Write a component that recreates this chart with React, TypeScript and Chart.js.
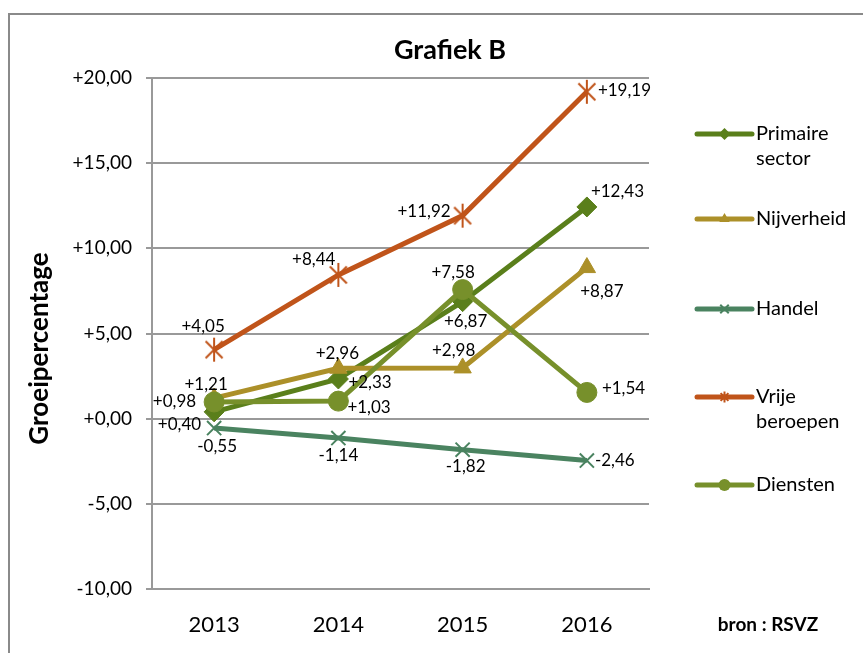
import { useEffect, useRef } from 'react';
import { Chart, registerables } from 'chart.js';

Chart.register(...registerables);

// ---- data ----
const categories = ['2013', '2014', '2015', '2016'];
const primaireSector = [0.40, 2.33, 6.87, 12.43];
const nijverheid = [1.21, 2.96, 2.98, 8.87];
const handel = [-0.55, -1.14, -1.82, -2.46];
const vrijeBeroepen = [4.05, 8.44, 11.92, 19.19];
const diensten = [0.98, 1.03, 7.58, 1.54];
const seriesNames = ['Primaire sector', 'Nijverheid', 'Handel', 'Vrije beroepen', 'Diensten'];
const legendLines = [['Primaire', 'sector'], ['Nijverheid'], ['Handel'], ['Vrije', 'beroepen'], ['Diensten']];
const yMin = -10;
const yMax = 20;
const yStep = 5;
const titleText = 'Grafiek B';
const yTitleText = 'Groeipercentage';
const sourceText = 'bron : RSVZ';

// ---- styles ----
const FONT = 'Lato, "Noto Sans", sans-serif';
const colors = ['#5A7F1B', '#AC9029', '#4A8360', '#C0541A', '#77902B'];
const markers = ['rectRot', 'triangle', 'crossRot', 'star6', 'circle'];
// label placement per point: [dx, dy, align]
const labelPlacement: [number, number, CanvasTextAlign][][] = [
  [[-13, 13, 'right'], [10, 4, 'left'], [3, 20, 'center'], [4, -15, 'left']],
  [[-8, -14, 'center'], [-1, -15, 'center'], [-9, -17, 'center'], [15, 24, 'center']],
  [[3, 18, 'center'], [0, 17, 'center'], [3, 17, 'center'], [8, 0, 'left']],
  [[-11, -23, 'center'], [-3, -15, 'right'], [-12, -4, 'right'], [11, -1, 'left']],
  [[-18, 0, 'right'], [9, 6, 'left'], [-9.5, -17, 'center'], [15, -4, 'left']],
];

const fmt = (v: number) => (v >= 0 ? '+' : '') + v.toFixed(2).replace('.', ',');

function makeStar(color: string, r: number, lw: number) {
  const c = document.createElement('canvas');
  const s = Math.ceil(r * 2 + lw * 2);
  c.width = s;
  c.height = s;
  const ctx = c.getContext('2d')!;
  const m = s / 2;
  ctx.strokeStyle = color;
  ctx.lineWidth = lw;
  ctx.beginPath();
  const d = r * Math.SQRT1_2;
  ctx.moveTo(m - d, m - d); ctx.lineTo(m + d, m + d);
  ctx.moveTo(m + d, m - d); ctx.lineTo(m - d, m + d);
  ctx.moveTo(m, m - r); ctx.lineTo(m, m + r);
  ctx.stroke();
  return c;
}

function drawMarker(ctx: CanvasRenderingContext2D, style: string, x: number, y: number, r: number, color: string) {
  ctx.save();
  ctx.fillStyle = color;
  ctx.strokeStyle = color;
  ctx.lineWidth = 2;
  ctx.beginPath();
  if (style === 'circle') {
    ctx.arc(x, y, r, 0, Math.PI * 2);
    ctx.fill();
  } else if (style === 'rectRot') {
    ctx.moveTo(x, y - r); ctx.lineTo(x + r, y); ctx.lineTo(x, y + r); ctx.lineTo(x - r, y); ctx.closePath();
    ctx.fill();
  } else if (style === 'triangle') {
    ctx.moveTo(x, y - r); ctx.lineTo(x + r * 0.87, y + r * 0.5); ctx.lineTo(x - r * 0.87, y + r * 0.5); ctx.closePath();
    ctx.fill();
  } else if (style === 'crossRot') {
    const d = r * Math.SQRT1_2;
    ctx.moveTo(x - d, y - d); ctx.lineTo(x + d, y + d);
    ctx.moveTo(x + d, y - d); ctx.lineTo(x - d, y + d);
    ctx.stroke();
  } else {
    const d = r * Math.SQRT1_2;
    ctx.moveTo(x - d, y - d); ctx.lineTo(x + d, y + d);
    ctx.moveTo(x + d, y - d); ctx.lineTo(x - d, y + d);
    ctx.moveTo(x, y - r); ctx.lineTo(x, y + r);
    ctx.stroke();
  }
  ctx.restore();
}

const decorPlugin = {
  id: 'decor',
  afterDatasetsDraw(chart: any) {
    const ctx: CanvasRenderingContext2D = chart.ctx;
    ctx.save();
    ctx.font = `17px ${FONT}`;
    ctx.fillStyle = '#000';
    ctx.textBaseline = 'middle';
    chart.data.datasets.forEach((ds: any, i: number) => {
      const meta = chart.getDatasetMeta(i);
      meta.data.forEach((pt: any, j: number) => {
        const [dx, dy, align] = labelPlacement[i][j];
        ctx.textAlign = align;
        ctx.fillText(fmt(ds.data[j]), pt.x + dx, pt.y + dy);
      });
    });
    ctx.restore();
  },
  afterDraw(chart: any) {
    const ctx: CanvasRenderingContext2D = chart.ctx;
    const area = chart.chartArea;
    ctx.save();
    ctx.fillStyle = '#000';
    ctx.textBaseline = 'middle';
    // title
    ctx.textAlign = 'center';
    ctx.font = `bold 27px ${FONT}`;
    ctx.fillText(titleText, 440, 35);
    // y title
    ctx.save();
    ctx.translate(30, 333.5);
    ctx.rotate(-Math.PI / 2);
    ctx.font = `bold 26px ${FONT}`;
    ctx.fillText(yTitleText, 0, 0);
    ctx.restore();
    // source
    ctx.font = `bold 19px ${FONT}`;
    ctx.fillText(sourceText, 758, 610);
    // legend
    const rows = [119, 204, 294, 382, 470];
    const lx0 = area.right + 48;
    const lx1 = lx0 + 55;
    legendLines.forEach((lines, i) => {
      const y = rows[i];
      ctx.save();
      ctx.strokeStyle = colors[i];
      ctx.lineWidth = 5;
      ctx.lineCap = 'round';
      ctx.beginPath();
      ctx.moveTo(lx0, y);
      ctx.lineTo(lx1, y);
      ctx.stroke();
      ctx.restore();
      drawMarker(ctx, markers[i], (lx0 + lx1) / 2, y, i === 3 ? 5.5 : 6, colors[i]);
      ctx.textAlign = 'left';
      ctx.font = `20px ${FONT}`;
      lines.forEach((t, k) => ctx.fillText(t, lx1 + 4, y + k * 25));
    });
    ctx.restore();
  },
};

export default function App() {
  const ref = useRef<HTMLCanvasElement>(null);
  useEffect(() => {
    document.documentElement.style.overflow = 'hidden';
    document.body.style.overflow = 'hidden';
    const seriesValues = [primaireSector, nijverheid, handel, vrijeBeroepen, diensten];
    const pointStyles: any[] = markers.map((m, i) => (m === 'star6' ? makeStar(colors[i], 12, 2) : m));
    const chart = new Chart(ref.current!, {
      type: 'line',
      data: {
        labels: categories,
        datasets: seriesValues.map((vals, i) => ({
          label: seriesNames[i],
          data: vals,
          borderColor: colors[i],
          backgroundColor: colors[i],
          borderWidth: 5,
          pointStyle: pointStyles[i],
          pointRadius: 10,
          pointHoverRadius: 10,
          pointBorderWidth: markers[i] === 'crossRot' ? 2 : 1,
          pointBackgroundColor: colors[i],
          pointBorderColor: colors[i],
          tension: 0,
          order: 5 - i,
        })),
      },
      options: {
        animation: false,
        responsive: true,
        maintainAspectRatio: false,
        layout: { padding: { left: 0, right: 216, top: 63, bottom: 0 } },
        plugins: {
          legend: { display: false },
          title: { display: false },
          tooltip: { enabled: false },
        },
        scales: {
          x: {
            type: 'category',
            offset: true,
            grid: { display: false, drawTicks: false },
            border: { display: true, color: '#999', width: 2 },
            ticks: { font: { family: FONT, size: 22 }, color: '#000', padding: 23 },
            afterFit: (s: any) => { s.height = 66; },
          },
          y: {
            min: yMin,
            max: yMax,
            ticks: {
              stepSize: yStep,
              callback: (v: any) => fmt(Number(v)),
              font: { family: FONT, size: 19 },
              color: '#000',
              padding: 14,
            },
            grid: { color: '#999', lineWidth: 2, tickLength: 6 },
            border: { color: '#999', width: 2 },
            afterFit: (s: any) => { s.width = 142; },
          },
        },
      },
      plugins: [decorPlugin],
    });
    return () => chart.destroy();
  }, []);
  return (
    <div
      style={{
        position: 'absolute',
        left: 8,
        top: 13,
        width: 900,
        height: 700,
        border: '2px solid #8a8a8a',
        overflow: 'hidden',
        background: '#fff',
      }}
    >
      <div style={{ position: 'relative', width: 855, height: 640 }}>
        <canvas ref={ref} />
      </div>
    </div>
  );
}
